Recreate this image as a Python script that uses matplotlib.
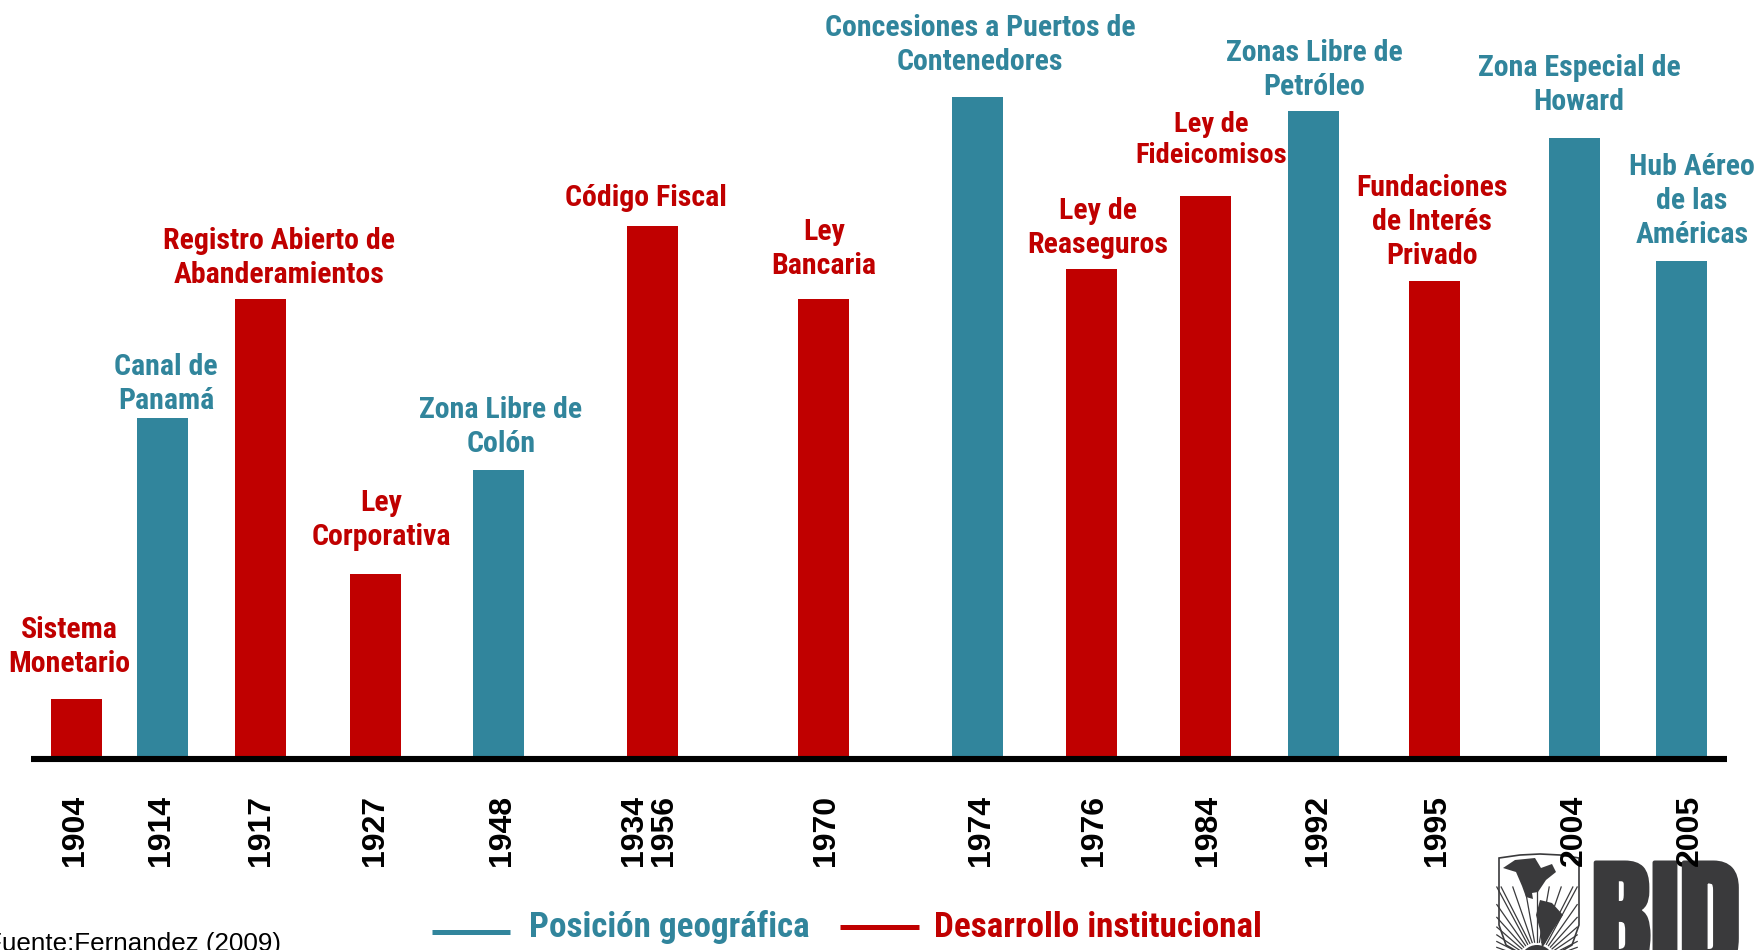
import numpy as np
import matplotlib
matplotlib.use('Agg')
import matplotlib.pyplot as plt
import matplotlib.patheffects as pe
from matplotlib.patches import Polygon, Circle

W, H = 1758, 950
BASE = 759

TEAL = '#31859C'
RED = '#C00000'
LOGO = '#3A3A3C'

years = ['1904', '1914', '1917', '1927', '1948', '1934\n1956', '1970', '1974',
         '1976', '1984', '1992', '1995', '2004', '2005']
values = [60, 341, 460, 185, 289, 533, 460, 662, 490, 563, 648, 478, 621, 498]
kinds = ['i', 'g', 'i', 'i', 'g', 'i', 'i', 'g', 'i', 'i', 'g', 'i', 'g', 'g']
labels = ['Sistema\nMonetario', 'Canal de\nPanamá', 'Registro Abierto de\nAbanderamientos',
          'Ley\nCorporativa', 'Zona Libre de\nColón', 'Código Fiscal', 'Ley\nBancaria',
          'Concesiones a Puertos de\nContenedores', 'Ley de\nReaseguros', 'Ley de\nFideicomisos',
          'Zonas Libre de\nPetróleo', 'Fundaciones\nde Interés\nPrivado',
          'Zona Especial de\nHoward', 'Hub Aéreo\nde las\nAméricas']

# positions in figure pixels
bar_x = [77, 162.5, 261, 375.5, 499, 652.5, 824, 978, 1092, 1206, 1314, 1435, 1575, 1682]
year_x = [75, 161, 261, 375, 502, 649, 826, 981, 1094, 1208, 1318, 1437, 1574, 1690]
label_x = [69, 166, 279, 381, 501, 646, 824, 980, 1098, 1211, 1314, 1432, 1579, 1692]
label_y = [647, 384, 258, 520, 427, 198, 249, 45, 228, 140, 70, 222, 85, 201]
label_size = [21.5] * 9 + [20.5] + [21.5] * 4
label_spacing = [1.27] * 9 + [1.2] + [1.27] * 4

colors = {'g': TEAL, 'i': RED}


def py(y):
    # pixel row counted from the top -> data y
    return BASE - y


fig = plt.figure(figsize=(W / 100, H / 100), dpi=100)
ax = fig.add_axes([0, 0, 1, 1])
ax.set_xlim(0, W)
ax.set_ylim(BASE - H, BASE)
ax.axis('off')

ax.bar(bar_x, values, width=51, color=[colors[k] for k in kinds], zorder=2)
ax.plot([31, 1727], [0, 0], color='black', lw=4.4, solid_capstyle='butt', zorder=3)

narrow = ['Roboto Condensed', 'Liberation Sans', 'DejaVu Sans']
arial = ['Liberation Sans', 'DejaVu Sans']

for x, y, txt, k, fs, ls in zip(label_x, label_y, labels, kinds, label_size, label_spacing):
    ax.text(x, py(y), txt, color=colors[k], family=narrow, weight='bold', fontsize=fs,
            ha='center', va='center', linespacing=ls, zorder=5)

# logo sits under the year labels
shield = [(1499, 858), (1520, 855), (1540, 854), (1560, 855), (1579, 858), (1579, 925),
          (1572, 945), (1555, 955), (1523, 955), (1506, 945), (1499, 925)]
ax.add_patch(Polygon([(x, py(y)) for x, y in shield], closed=True, fc='white', ec=LOGO, lw=1.2, zorder=6))
north = [(1503, 868), (1515, 860), (1535, 858), (1541, 868), (1552, 864), (1556, 872), (1546, 880),
         (1538, 892), (1532, 893), (1533, 899), (1526, 897), (1522, 886), (1516, 872)]
ax.add_patch(Polygon([(x, py(y)) for x, y in north], closed=True, fc=LOGO, ec='none', zorder=7))
south = [(1540, 900), (1552, 903), (1563, 915), (1553, 930), (1546, 942), (1542, 948), (1540, 930), (1536, 915)]
ax.add_patch(Polygon([(x, py(y)) for x, y in south], closed=True, fc=LOGO, ec='none', zorder=7))
ax.add_patch(Circle((1537, py(962)), 17, fc=LOGO, ec='none', zorder=7))
for a in np.deg2rad(np.arange(-70, 71, 7)):
    x0, y0 = 1537 + 20 * np.sin(a), 962 - 20 * np.cos(a)
    x1, y1 = 1537 + 100 * np.sin(a), 962 - 100 * np.cos(a)
    k = min(1, (1578 - 1537) / max(abs(x1 - 1537), 1e-6) * 0.98)
    x1, y1 = 1537 + (x1 - 1537) * k, 962 + (y1 - 962) * k
    y1 = max(y1, 887)
    ax.plot([x0, x1], [py(y0), py(y1)], color=LOGO, lw=0.9, zorder=6.5)
ax.text(1591, py(970), 'BID', color=LOGO, family=['Anton', 'Liberation Sans'], fontsize=90,
        ha='left', va='baseline', zorder=6,
        path_effects=[pe.withStroke(linewidth=3, foreground=LOGO)])

for x, yr in zip(year_x, years):
    ax.text(x, py(830), yr, color='black', family=arial, weight='bold', fontsize=23, rotation=90,
            ha='center', va='center', linespacing=1.03, multialignment='center', zorder=8)

# legend
ax.plot([432, 510], [py(932), py(932)], color=TEAL, lw=3.6, solid_capstyle='butt')
ax.plot([840, 919], [py(927), py(927)], color=RED, lw=3.6, solid_capstyle='butt')
ax.text(529, py(937), 'Posición geográfica', color=TEAL, family=narrow, weight='bold', fontsize=25.25,
        ha='left', va='baseline')
ax.text(934, py(937), 'Desarrollo institucional', color=RED, family=narrow, weight='bold', fontsize=25.25,
        ha='left', va='baseline')

ax.text(281, py(951), 'Fuente:Fernandez (2009)', color='black', family=arial, fontsize=18.7,
        ha='right', va='baseline')

fig.savefig('out.png', dpi=100)
